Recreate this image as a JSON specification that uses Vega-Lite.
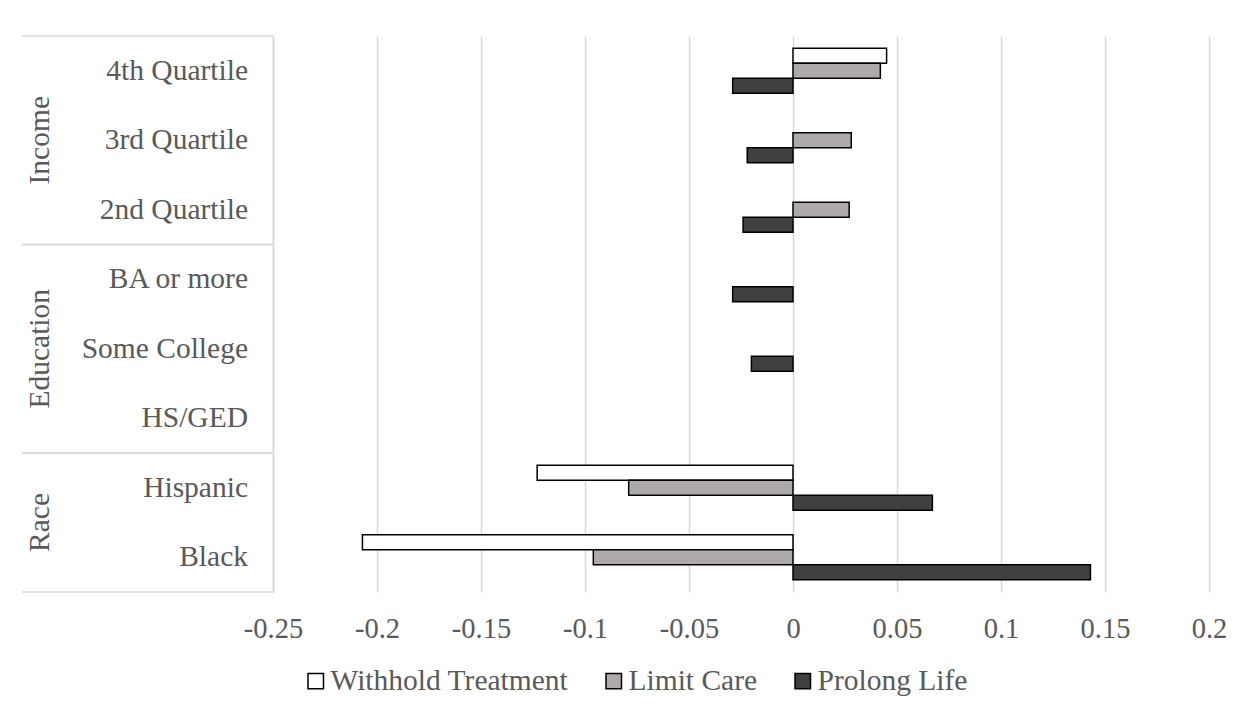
{
  "$schema": "https://vega.github.io/schema/vega-lite/v6.json",
  "padding": {"left": 21, "top": 35, "right": 5, "bottom": 5},
  "background": "white",
  "bounds": "flush",
  "spacing": 0,
  "config": {"view": {"stroke": null}, "font": "Liberation Serif"},
  "datasets": {
    "bars": [
      {"category": "4th Quartile", "series": "Withhold Treatment", "value": 0.045},
      {"category": "4th Quartile", "series": "Limit Care", "value": 0.042},
      {"category": "4th Quartile", "series": "Prolong Life", "value": -0.029},
      {"category": "3rd Quartile", "series": "Limit Care", "value": 0.028},
      {"category": "3rd Quartile", "series": "Prolong Life", "value": -0.022},
      {"category": "2nd Quartile", "series": "Limit Care", "value": 0.027},
      {"category": "2nd Quartile", "series": "Prolong Life", "value": -0.024},
      {"category": "BA or more", "series": "Prolong Life", "value": -0.029},
      {"category": "Some College", "series": "Prolong Life", "value": -0.020},
      {"category": "Hispanic", "series": "Withhold Treatment", "value": -0.123},
      {"category": "Hispanic", "series": "Limit Care", "value": -0.079},
      {"category": "Hispanic", "series": "Prolong Life", "value": 0.067},
      {"category": "Black", "series": "Withhold Treatment", "value": -0.207},
      {"category": "Black", "series": "Limit Care", "value": -0.096},
      {"category": "Black", "series": "Prolong Life", "value": 0.143}
    ],
    "cats": [
      {"group": "Income", "category": "4th Quartile"},
      {"group": "Income", "category": "3rd Quartile"},
      {"group": "Income", "category": "2nd Quartile"},
      {"group": "Education", "category": "BA or more"},
      {"group": "Education", "category": "Some College"},
      {"group": "Education", "category": "HS/GED"},
      {"group": "Race", "category": "Hispanic"},
      {"group": "Race", "category": "Black"}
    ],
    "groups": [
      {"group": "Income", "first": "4th Quartile", "labelAt": "3rd Quartile", "last": "2nd Quartile"},
      {"group": "Education", "first": "BA or more", "labelAt": "Some College", "last": "HS/GED"},
      {"group": "Race", "first": "Hispanic", "labelAt": "Black", "last": "Black"}
    ]
  },
  "resolve": {"scale": {"y": "independent", "x": "independent"}},
  "hconcat": [
    {
      "width": 251,
      "height": 556,
      "layer": [
        {
          "data": {"name": "groups"},
          "mark": {"type": "rule", "color": "#d9d9d9", "strokeWidth": 1.5},
          "encoding": {
            "y": {"field": "first", "type": "nominal", "bandPosition": 0,
              "scale": {"domain": ["4th Quartile", "3rd Quartile", "2nd Quartile", "BA or more", "Some College", "HS/GED", "Hispanic", "Black"], "paddingInner": 0, "paddingOuter": 0},
              "axis": null}
          }
        },
        {
          "data": {"name": "groups"},
          "mark": {"type": "rule", "color": "#d9d9d9", "strokeWidth": 1.5},
          "encoding": {
            "y": {"field": "last", "type": "nominal", "bandPosition": 1, "axis": null}
          }
        },
        {
          "data": {"name": "cats"},
          "mark": {"type": "text", "align": "right", "baseline": "middle", "dx": -25, "fontSize": 29.5, "color": "#595959", "font": "Liberation Serif"},
          "encoding": {
            "y": {"field": "category", "type": "nominal", "axis": null},
            "x": {"datum": "category", "type": "nominal", "scale": {"type": "point", "domain": ["group", "category"], "padding": 0}, "axis": null},
            "text": {"field": "category"}
          }
        },
        {
          "data": {"name": "groups"},
          "transform": [{"filter": "datum.group !== 'Race'"}],
          "mark": {"type": "text", "angle": 270, "align": "center", "baseline": "middle", "dy": 18, "fontSize": 29.5, "color": "#595959", "font": "Liberation Serif"},
          "encoding": {
            "y": {"field": "labelAt", "type": "nominal", "bandPosition": 0.5, "axis": null},
            "x": {"datum": "group", "type": "nominal", "axis": null},
            "text": {"field": "group"}
          }
        },
        {
          "data": {"name": "groups"},
          "transform": [{"filter": "datum.group === 'Race'"}],
          "mark": {"type": "text", "angle": 270, "align": "center", "baseline": "middle", "dy": 18, "fontSize": 29.5, "color": "#595959", "font": "Liberation Serif"},
          "encoding": {
            "y": {"field": "labelAt", "type": "nominal", "bandPosition": 0, "axis": null},
            "x": {"datum": "group", "type": "nominal", "axis": null},
            "text": {"field": "group"}
          }
        }
      ]
    },
    {
      "width": 936,
      "height": 556,
      "data": {"name": "bars"},
      "mark": {"type": "bar", "stroke": "black", "strokeWidth": 1.5},
      "encoding": {
        "y": {
          "field": "category", "type": "nominal",
          "scale": {"domain": ["4th Quartile", "3rd Quartile", "2nd Quartile", "BA or more", "Some College", "HS/GED", "Hispanic", "Black"], "paddingInner": 0.35, "paddingOuter": 0.175},
          "axis": {"labels": false, "ticks": false, "title": null, "domain": true, "domainColor": "#d9d9d9", "domainWidth": 1.5, "grid": false}
        },
        "yOffset": {
          "field": "series", "type": "nominal",
          "scale": {"domain": ["Withhold Treatment", "Limit Care", "Prolong Life"], "paddingInner": 0, "paddingOuter": 0}
        },
        "x": {
          "field": "value", "type": "quantitative",
          "scale": {"domain": [-0.25, 0.2], "nice": false, "zero": false},
          "axis": {
            "values": [-0.25, -0.2, -0.15, -0.1, -0.05, 0, 0.05, 0.1, 0.15, 0.2],
            "title": null, "grid": true, "gridColor": "#d9d9d9", "gridWidth": 1.5,
            "domain": false, "ticks": false,
            "labelFontSize": 28.5, "labelColor": "#595959", "labelFont": "Liberation Serif",
            "labelPadding": 22, "labelFlush": false, "labelOverlap": false,
            "format": "~g", "labelExpr": "replace(datum.label, '\u2212', '-')"
          }
        },
        "fill": {
          "field": "series", "type": "nominal",
          "scale": {"domain": ["Withhold Treatment", "Limit Care", "Prolong Life"], "range": ["#ffffff", "#aeaaaa", "#404040"]},
          "legend": {
            "orient": "none", "legendX": 279, "legendY": 630, "direction": "horizontal",
            "title": null, "symbolType": "square", "symbolSize": 240,
            "symbolStrokeColor": "black", "symbolStrokeWidth": 1.5, "symbolOpacity": 1,
            "labelFontSize": 29.5, "labelFont": "Liberation Serif", "labelColor": "#595959",
            "labelOffset": 0, "labelLimit": 500, "columnPadding": 30, "padding": 0
          }
        }
      }
    }
  ]
}
